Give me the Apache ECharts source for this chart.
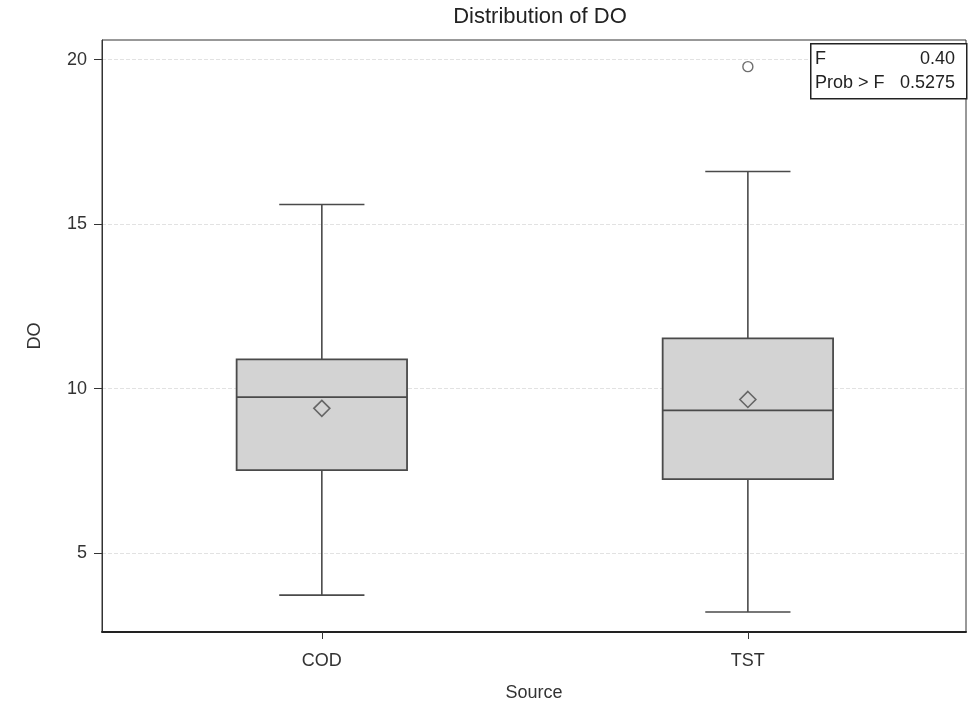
<!DOCTYPE html>
<html><head><meta charset="utf-8">
<script src="https://cdn.jsdelivr.net/npm/echarts@6/dist/echarts.min.js"></script>
<style>html,body{margin:0;padding:0;background:#fff}#c{width:969px;height:703px}</style>
</head><body><div id="c"></div>
<script>
const categories = ['COD', 'TST'];
const whiskerLow = [3.72, 3.21];
const q1 = [7.52, 7.25];
const median = [9.74, 9.34];
const q3 = [10.89, 11.53];
const whiskerHigh = [15.6, 16.6];
const means = [9.40, 9.67];
const outliers = [[1, 19.79]];
const yTicks = [5, 10, 15, 20];
const xTicks = [0, 1];
const statF = '0.40';
const statP = '0.5275';

const FONT = '"Liberation Sans", Arial, sans-serif';
const chart = echarts.init(document.getElementById('c'));

const boxData = categories.map((c, i) => [i, whiskerLow[i], q1[i], median[i], q3[i], whiskerHigh[i]]);

function renderBox(params, api) {
  const i = api.value(0);
  const lo = api.coord([i, api.value(1)]);
  const b1 = api.coord([i, api.value(2)]);
  const md = api.coord([i, api.value(3)]);
  const b3 = api.coord([i, api.value(4)]);
  const hi = api.coord([i, api.value(5)]);
  const w = api.size([0.4, 0])[0];
  const cw = w * 0.5;
  const x = lo[0];
  const ls = { stroke: '#4a4a4a', lineWidth: 1.6 };
  return {
    type: 'group',
    children: [
      { type: 'line', shape: { x1: x, y1: hi[1], x2: x, y2: b3[1] }, style: ls },
      { type: 'line', shape: { x1: x, y1: b1[1], x2: x, y2: lo[1] }, style: ls },
      { type: 'line', shape: { x1: x - cw / 2, y1: hi[1], x2: x + cw / 2, y2: hi[1] }, style: ls },
      { type: 'line', shape: { x1: x - cw / 2, y1: lo[1], x2: x + cw / 2, y2: lo[1] }, style: ls },
      { type: 'rect', shape: { x: x - w / 2, y: b3[1], width: w, height: b1[1] - b3[1] },
        style: { fill: '#d3d3d3', stroke: '#4a4a4a', lineWidth: 1.8 } },
      { type: 'line', shape: { x1: x - w / 2, y1: md[1], x2: x + w / 2, y2: md[1] }, style: ls }
    ]
  };
}

chart.setOption({
  animation: false,
  backgroundColor: '#fff',
  textStyle: { fontFamily: FONT },
  title: {
    text: 'Distribution of DO', left: 535, top: 1, textAlign: 'center',
    textStyle: { fontFamily: FONT, fontSize: 22, fontWeight: 'normal', color: '#222' }
  },
  grid: { left: 102, right: 3, top: 40, bottom: 71, show: true, borderColor: '#333', borderWidth: 1,
    outerBoundsMode: 'none', containLabel: false },
  xAxis: {
    type: 'value', min: -0.516, max: 1.512,
    name: 'Source', nameLocation: 'middle', nameGap: 52,
    nameTextStyle: { fontFamily: FONT, fontSize: 18, color: '#333' },
    axisLine: { show: true, onZero: false, lineStyle: { color: '#222', width: 2 } },
    axisTick: { show: true, length: 7, lineStyle: { color: '#333' }, customValues: xTicks },
    axisLabel: { fontFamily: FONT, fontSize: 18, color: '#333', margin: 20, customValues: xTicks,
      formatter: v => categories[Math.round(v)] },
    splitLine: { show: false }
  },
  yAxis: {
    type: 'value', min: 2.6, max: 20.6, splitNumber: 4,
    name: 'DO', nameLocation: 'middle', nameGap: 58,
    nameTextStyle: { fontFamily: FONT, fontSize: 18, color: '#333' },
    axisLine: { show: true, onZero: false, lineStyle: { color: '#333', width: 1 } },
    axisTick: { show: true, length: 8, lineStyle: { color: '#333' }, customValues: yTicks },
    axisLabel: { fontFamily: FONT, fontSize: 18, color: '#333', margin: 15, customValues: yTicks },
    splitLine: { show: true, lineStyle: { color: '#e2e2e2', type: 'dashed', width: 1 } }
  },
  series: [
    { type: 'custom', renderItem: renderBox, data: boxData, z: 2,
      encode: { x: 0, y: [1, 2, 3, 4, 5] } },
    { type: 'scatter', data: categories.map((c, i) => [i, means[i]]), symbol: 'diamond', symbolSize: [16, 16], z: 5,
      itemStyle: { color: 'rgba(0,0,0,0)', borderColor: '#4a4a4a', borderWidth: 1.6 } },
    { type: 'scatter', data: outliers, symbol: 'circle', symbolSize: 10, z: 5,
      itemStyle: { color: '#fff', borderColor: '#4a4a4a', borderWidth: 1.4 } }
  ],
  graphic: [
    { type: 'rect', left: 810, top: 43, shape: { width: 156, height: 55 },
      style: { fill: '#fff', stroke: '#222', lineWidth: 1.5 }, z: 10 },
    { type: 'text', left: 815, top: 50, style: { text: 'F', font: '18px ' + FONT, fill: '#222' }, z: 11 },
    { type: 'text', right: 14, top: 50, style: { text: statF, font: '18px ' + FONT, fill: '#222' }, z: 11 },
    { type: 'text', left: 815, top: 74, style: { text: 'Prob > F', font: '18px ' + FONT, fill: '#222' }, z: 11 },
    { type: 'text', right: 14, top: 74, style: { text: statP, font: '18px ' + FONT, fill: '#222' }, z: 11 }
  ]
});
</script>
</body></html>
